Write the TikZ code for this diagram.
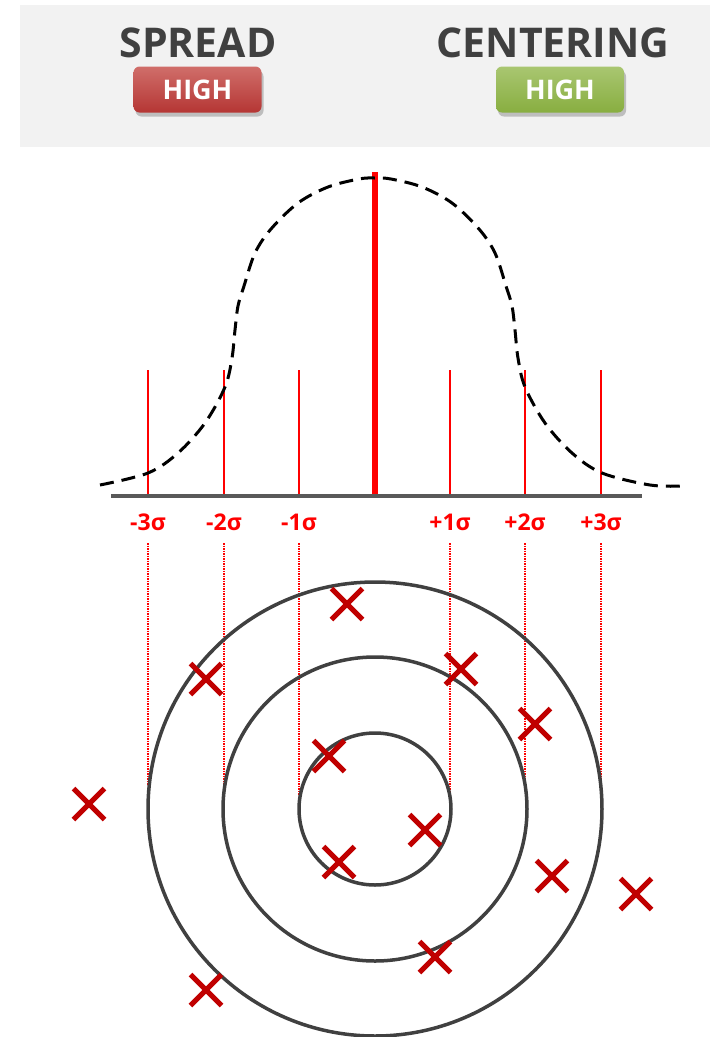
\documentclass[tikz,border=0pt]{standalone}
\usepackage{fontspec}
\setmainfont{Open Sans}
\usetikzlibrary{shapes.misc,shadows}
\definecolor{hdrgray}{HTML}{F2F2F2}
\definecolor{txtgray}{HTML}{404040}
\definecolor{axisgray}{HTML}{595959}
\definecolor{ringgray}{HTML}{404040}
\definecolor{xred}{HTML}{C00000}
\definecolor{sigred}{HTML}{FF0000}
\definecolor{redtop}{HTML}{D06E6A}
\definecolor{redbot}{HTML}{B53634}
\definecolor{greentop}{HTML}{A9C671}
\definecolor{greenbot}{HTML}{88AE40}
\tikzset{
  title/.style={anchor=base, text=txtgray, font=\fontsize{41}{41}\selectfont\bfseries},
  badge/.style={rounded corners=6pt, minimum width=128pt, minimum height=46pt, inner sep=0pt,
    text=white, font=\fontsize{27}{27}\selectfont\bfseries,
    drop shadow={shadow xshift=2pt, shadow yshift=-4pt, opacity=0.45}},
  siglabel/.style={anchor=base, text=sigred, font=\fontsize{23}{23}\selectfont\bfseries},
  tickline/.style={draw=sigred, line width=2.5pt},
  guide/.style={sigred, line width=1.3pt, dash pattern=on 1.5pt off 1pt},
  ring/.style={draw=ringgray, line width=3.5pt},
  hit/.style={cross out, draw=xred, line width=5pt, minimum size=26pt, inner sep=0pt},
}
\begin{document}
\begin{tikzpicture}[x=1pt,y=-1pt]
\useasboundingbox (0,0) rectangle (710,1037);
% header
\fill[hdrgray] (20,5) rectangle (710,147);
\node[title] (spread) at (198,57) {SPREAD};
\node[title] (centering) at (553,57) {CENTERING};
\node[badge, top color=redtop, bottom color=redbot] (b1) at (197.5,89.5) {HIGH};
\node[badge, top color=greentop, bottom color=greenbot] (b2) at (560,89.5) {HIGH};
% ticks
\foreach \n/\x in {m3/148,m2/224,m1/299,p1/450,p2/525,p3/601}{
  \coordinate (t\n) at (\x,370);
  \coordinate (a\n) at (\x,496);
  \draw[tickline] (t\n) -- (a\n);
}
\coordinate (t0) at (375,172);
\coordinate (a0) at (375,496);
\draw[draw=sigred, line width=6pt] (t0) -- (a0);
% curve
\draw[black, line width=3pt, dash pattern=on 14pt off 8pt] plot[smooth, tension=0.55] coordinates {
 (100,485) (148,473) (178,453) (205,423) (225,387) (232,358) (235,330) (238,306) (244,286)
 (255,253) (271,229) (298,203) (328,187) (359,179) (375,178)
 (391,179) (422,187) (452,203) (479,229) (495,253) (506,286) (512,306) (515,330) (518,358)
 (525,387) (545,423) (572,453) (602,473) (650,485) (682,486)};
% axis
\coordinate (ax0) at (111,496);
\coordinate (ax1) at (642,496);
\draw[axisgray, line width=4pt] (ax0) -- (ax1);
% labels
\node[siglabel] (lm3) at (148,530) {-3σ};
\node[siglabel] (lm2) at (224,530) {-2σ};
\node[siglabel] (lm1) at (299,530) {-1σ};
\node[siglabel] (lp1) at (450,530) {+1σ};
\node[siglabel] (lp2) at (525,530) {+2σ};
\node[siglabel] (lp3) at (601,530) {+3σ};
% guide lines
\foreach \x/\ya/\yb in {148/543/785,224/543/785,299/543/795,450/543/792,525/543/785,601/543/785}{
  \draw[guide] (\x,\ya) -- (\x,\yb);
}
% rings
\coordinate (c) at (375,809);
\draw[ring] (c) circle[radius=227pt];
\draw[ring] (c) circle[radius=152pt];
\draw[ring] (c) circle[radius=76pt];
% hits
\node[hit] (h1) at (347,604) {};
\node[hit] (h2) at (206,679) {};
\node[hit] (h3) at (461,669) {};
\node[hit] (h4) at (535,724) {};
\node[hit] (h5) at (329,756) {};
\node[hit] (h6) at (89,804) {};
\node[hit] (h7) at (425,830) {};
\node[hit] (h8) at (339,862) {};
\node[hit] (h9) at (552,876) {};
\node[hit] (h10) at (636,894) {};
\node[hit] (h11) at (435,957) {};
\node[hit] (h12) at (206,990) {};
\end{tikzpicture}
\end{document}
